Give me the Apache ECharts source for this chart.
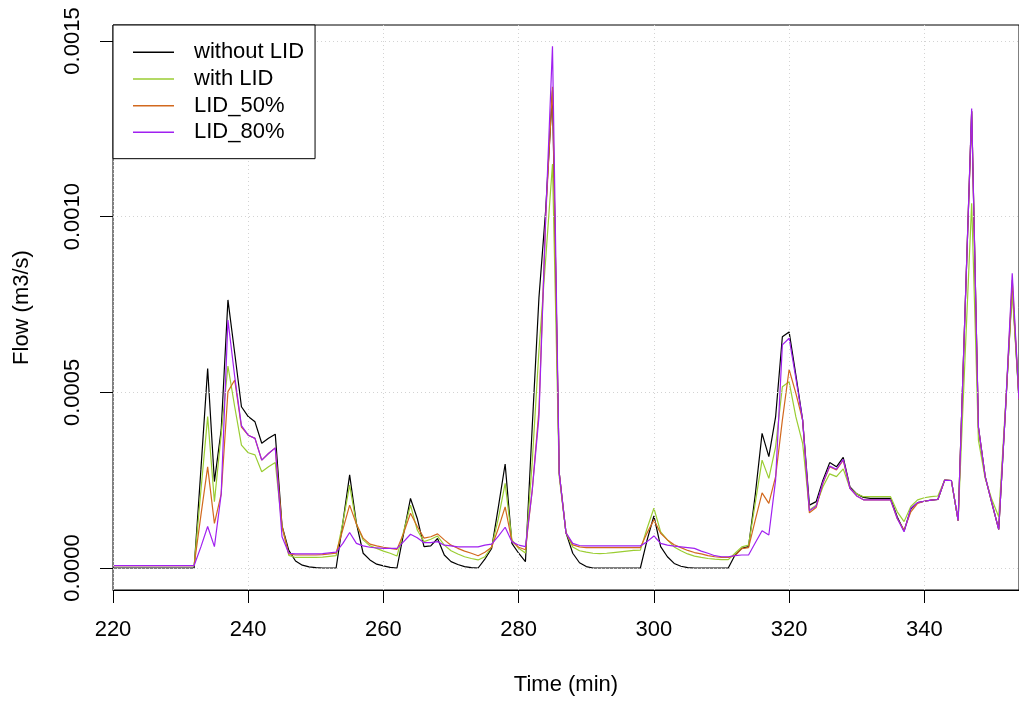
<!DOCTYPE html>
<html>
<head>
<meta charset="utf-8">
<script src="https://cdn.jsdelivr.net/npm/echarts@6/dist/echarts.min.js"></script>
<style>
html,body{margin:0;padding:0;background:#fff;}
#chart{width:1019px;height:701px;}
</style>
</head>
<body>
<div id="chart"></div>
<script>
const time = [
220,221,222,223,224,225,226,227,228,229,
230,231,232,233,234,235,236,237,238,239,
240,241,242,243,244,245,246,247,248,249,
250,251,252,253,254,255,256,257,258,259,
260,261,262,263,264,265,266,267,268,269,
270,271,272,273,274,275,276,277,278,279,
280,281,282,283,284,285,286,287,288,289,
290,291,292,293,294,295,296,297,298,299,
300,301,302,303,304,305,306,307,308,309,
310,311,312,313,314,315,316,317,318,319,
320,321,322,323,324,325,326,327,328,329,
330,331,332,333,334,335,336,337,338,339,
340,341,342,343,344,345,346,347,348,349,
350,351,352,353,354];

const withoutLID = [
0,0,0,0,0,0,0,0,0,0,
0,0,0,0.00028,0.000568,0.000246,0.000393,0.000763,0.000612,0.000459,
0.000431,0.000416,0.000355,0.000369,0.000381,0.00012,0.00005,0.00002,0.000008,0.000003,
0.000001,0,0,0,0.00013,0.000265,0.000127,0.000042,0.000023,0.000011,
0.000006,0.000002,0,0.0001,0.000198,0.000141,0.000061,0.000063,0.000084,0.000037,
0.000018,0.00001,0.000004,0.000001,0,0.000025,0.000056,0.000174,0.000296,0.00007,
0.000042,0.000018,0.0004,0.00077,0.00102,0.00136,0.00027,0.0001,0.000042,0.000015,
0.000004,0,0,0,0,0,0,0,0,0.00008,
0.000148,0.000061,0.000032,0.000013,0.000005,0.000001,0,0,0,0,
0,0,0.000037,0.000056,0.000061,0.00021,0.000383,0.000317,0.00043,0.000658,
0.000672,0.000549,0.000421,0.000179,0.000189,0.00025,0.0003,0.000288,0.000315,0.000231,
0.000211,0.000201,0.000198,0.000198,0.000198,0.000198,0.000145,0.000105,0.000168,0.000186,
0.00019,0.000193,0.000195,0.00025,0.000249,0.000135,0.00072,0.0013,0.0004,0.00026,
0.000184,0.00011,0.00045,0.0008,0.00048];

const withLID = [
0.000007,0.000007,0.000007,0.000007,0.000007,0.000007,0.000007,0.000007,0.000007,0.000007,
0.000007,0.000007,0.000007,0.00022,0.000431,0.000189,0.00038,0.000575,0.000459,0.00035,
0.000328,0.000322,0.000274,0.000288,0.0003,0.000118,0.000036,0.00003,0.00003,0.00003,
0.00003,0.000031,0.000033,0.000035,0.00013,0.000236,0.000125,0.00008,0.000063,0.000056,
0.000048,0.000042,0.000034,0.000105,0.000179,0.000108,0.000075,0.000082,0.000091,0.000065,
0.000049,0.00004,0.000032,0.000027,0.000023,0.000032,0.00006,0.000141,0.000241,0.00008,
0.000056,0.000043,0.0003,0.00062,0.00088,0.00115,0.00026,0.0001,0.00006,0.000049,
0.000045,0.000042,0.000041,0.000042,0.000044,0.000046,0.000048,0.00005,0.000051,0.000113,
0.00017,0.000103,0.00008,0.00006,0.000049,0.00004,0.000034,0.00003,0.000027,0.000025,
0.000024,0.000024,0.000042,0.00006,0.000065,0.000186,0.000307,0.000255,0.000345,0.000516,
0.00053,0.00043,0.000355,0.000165,0.000179,0.000231,0.000268,0.00026,0.000282,0.000227,
0.000211,0.000203,0.000203,0.000203,0.000203,0.000203,0.00016,0.000132,0.000175,0.000194,
0.0002,0.000203,0.000205,0.00025,0.000249,0.000135,0.00059,0.001038,0.000364,0.000255,
0.000194,0.000146,0.00046,0.000786,0.00048];

const lid50 = [
0.000007,0.000007,0.000007,0.000007,0.000007,0.000007,0.000007,0.000007,0.000007,0.000007,
0.000007,0.000007,0.000007,0.00015,0.000288,0.000127,0.00021,0.000502,0.000535,0.000401,
0.000378,0.000369,0.000307,0.000326,0.000342,0.000118,0.00004,0.000037,0.000037,0.000037,
0.000037,0.000038,0.00004,0.000042,0.00011,0.000179,0.000125,0.000085,0.000068,0.000063,
0.000059,0.000056,0.000053,0.0001,0.000156,0.000118,0.000085,0.000089,0.000097,0.00008,
0.000065,0.000056,0.000048,0.000042,0.000035,0.000045,0.000059,0.000113,0.000174,0.000076,
0.000059,0.000052,0.00022,0.00045,0.001,0.00137,0.00027,0.0001,0.000066,0.00006,
0.000058,0.000058,0.000058,0.000058,0.000058,0.000058,0.000058,0.000058,0.000058,0.0001,
0.000137,0.000099,0.00008,0.000066,0.000058,0.00005,0.000044,0.00004,0.000035,0.000032,
0.00003,0.00003,0.000035,0.000055,0.000058,0.000137,0.000214,0.000184,0.00026,0.000421,
0.000565,0.000497,0.000421,0.000157,0.000172,0.000241,0.000288,0.000279,0.000307,0.000227,
0.000205,0.000194,0.000194,0.000194,0.000194,0.000194,0.00014,0.000108,0.00016,0.000184,
0.00019,0.000193,0.000195,0.00025,0.000249,0.000135,0.00072,0.0013,0.0004,0.00026,
0.000184,0.00011,0.00045,0.00082,0.00048];

const lid80 = [
0.000007,0.000007,0.000007,0.000007,0.000007,0.000007,0.000007,0.000007,0.000007,0.000007,
0.000007,0.000007,0.000007,0.00006,0.000118,0.000061,0.00021,0.000706,0.000545,0.000405,
0.000378,0.000369,0.000307,0.000326,0.000342,0.000089,0.000042,0.00004,0.00004,0.00004,
0.00004,0.000041,0.000043,0.000045,0.00007,0.000101,0.00007,0.000063,0.000059,0.000057,
0.000056,0.000056,0.000056,0.000075,0.000096,0.000086,0.000072,0.000072,0.000075,0.000065,
0.000063,0.00006,0.00006,0.00006,0.00006,0.000065,0.000068,0.000091,0.000116,0.000075,
0.000065,0.000061,0.00022,0.00043,0.001,0.001485,0.00027,0.0001,0.00007,0.000064,
0.000063,0.000063,0.000063,0.000063,0.000063,0.000063,0.000063,0.000063,0.000063,0.000075,
0.000091,0.00007,0.000065,0.000062,0.00006,0.000058,0.000056,0.000048,0.000042,0.000035,
0.000032,0.000032,0.000035,0.000037,0.000037,0.000072,0.000106,0.000094,0.00025,0.000635,
0.000654,0.00054,0.000421,0.000163,0.000176,0.000244,0.00029,0.000281,0.000309,0.000227,
0.000205,0.000194,0.000194,0.000194,0.000194,0.000194,0.000141,0.000103,0.00017,0.000186,
0.00019,0.000193,0.000195,0.00025,0.000249,0.000135,0.00072,0.001308,0.000402,0.00026,
0.000184,0.00011,0.00045,0.000839,0.00048];

const seriesNames = ['without LID', 'with LID', 'LID_50%', 'LID_80%'];
const seriesColors = ['#000000', '#9ACD32', '#D2691E', '#A020F0'];
const seriesValues = [withoutLID, withLID, lid50, lid80];
const xTicks = [220, 240, 260, 280, 300, 320, 340];
const yTicks = [0, 0.0005, 0.0010, 0.0015];

const FONT = '"Liberation Sans", Arial, sans-serif';
const gridLine = { show: true, lineStyle: { color: '#d3d3d3', width: 1, type: [1, 3] } };

const chart = echarts.init(document.getElementById('chart'), null, { renderer: 'canvas' });

const series = seriesNames.map((name, i) => ({
  name: name,
  type: 'line',
  xAxisIndex: 1,
  yAxisIndex: 1,
  data: time.map((t, k) => [t, seriesValues[i][k]]),
  showSymbol: false,
  symbol: 'none',
  clip: false,
  lineStyle: { color: seriesColors[i], width: 1.2 },
  itemStyle: { color: seriesColors[i] },
  emphasis: { disabled: true },
  animation: false,
  z: 2
}));

chart.setOption({
  animation: false,
  backgroundColor: '#ffffff',
  textStyle: { fontFamily: FONT },
  grid: [
    { left: 113, right: -2, top: 25, bottom: 111, show: true, borderColor: '#000', borderWidth: 1, backgroundColor: 'transparent', containLabel: false },
    { left: 113, right: -2, top: 41, bottom: 133, show: false, containLabel: false }
  ],
  xAxis: [
    {
      gridIndex: 0, type: 'value', min: xTicks[0], max: 354, interval: 20, z: 3,
      axisLine: { show: true, onZero: false, lineStyle: { color: '#000', width: 1 } },
      axisTick: { show: true, inside: false, length: 13, lineStyle: { color: '#000', width: 1 } },
      axisLabel: { show: true, color: '#000', fontSize: 22, fontFamily: FONT, margin: 29, showMaxLabel: false, lineHeight: 22 },
      splitLine: gridLine,
      name: 'Time (min)', nameLocation: 'middle', nameGap: 84,
      nameTextStyle: { color: '#000', fontSize: 22, fontFamily: FONT, lineHeight: 22 }
    },
    {
      gridIndex: 1, type: 'value', min: xTicks[0], max: 354, show: false
    }
  ],
  yAxis: [
    {
      gridIndex: 0, type: 'value', min: 0, max: 1,
      axisLine: { show: false }, axisTick: { show: false }, axisLabel: { show: false }, splitLine: { show: false },
      name: 'Flow (m3/s)', nameLocation: 'middle', nameGap: 80, nameRotate: 90,
      nameTextStyle: { color: '#000', fontSize: 22, fontFamily: FONT, lineHeight: 22 }
    },
    {
      gridIndex: 1, type: 'value', min: yTicks[0], max: yTicks[yTicks.length - 1], interval: 0.0005, z: 3,
      axisLine: { show: false },
      axisTick: { show: true, inside: false, length: 13, lineStyle: { color: '#000', width: 1 } },
      axisLabel: { show: true, rotate: 90, color: '#000', fontSize: 22, fontFamily: FONT, margin: 29, lineHeight: 22,
        formatter: v => v.toFixed(4) },
      splitLine: gridLine
    }
  ],
  legend: {
    show: true,
    data: seriesNames,
    orient: 'vertical',
    left: 113, top: 25,
    padding: [14, 11, 13, 20],
    itemGap: 0,
    itemWidth: 41,
    itemHeight: 1.5,
    icon: 'rect',
    selectedMode: false,
    backgroundColor: '#ffffff',
    borderColor: '#000000',
    borderWidth: 1,
    z: 10,
    textStyle: { color: '#000', fontSize: 22, fontFamily: FONT, lineHeight: 26.67, padding: [0, 0, 0, 15] }
  },
  series: series
});
</script>
</body>
</html>
